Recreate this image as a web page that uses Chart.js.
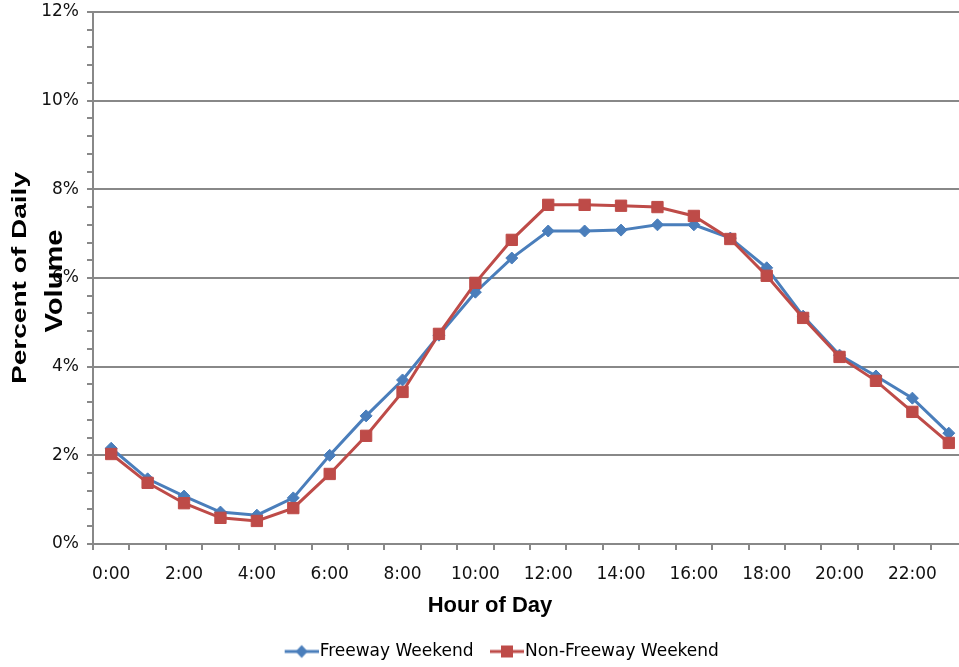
<!DOCTYPE html>
<html>
<head>
<meta charset="utf-8">
<script src="https://cdn.jsdelivr.net/npm/chart.js@4.4.0/dist/chart.umd.min.js"></script>
<style>
  html, body { margin: 0; padding: 0; background: #fff; overflow: hidden; }
  /* the original plot runs a little past the right and bottom edges of the picture */
  #wrap { width: 959px; height: 667px; overflow: hidden; }
  #inner { width: 967px; height: 670px; position: relative; }
</style>
</head>
<body>
<div id="wrap"><div id="inner"><canvas id="chart"></canvas></div></div>
<script>
// data (percent of daily volume)
const hours = ["0:00", "1:00", "2:00", "3:00", "4:00", "5:00", "6:00", "7:00", "8:00", "9:00", "10:00", "11:00",
    "12:00", "13:00", "14:00", "15:00", "16:00", "17:00", "18:00", "19:00", "20:00", "21:00", "22:00", "23:00"];
const freewayWeekend = [2.16, 1.47, 1.08, 0.72, 0.65, 1.04, 2.00, 2.89, 3.70, 4.71, 5.68, 6.45,
    7.06, 7.06, 7.08, 7.20, 7.20, 6.90, 6.23, 5.14, 4.26, 3.79, 3.29, 2.50];
const nonFreewayWeekend = [2.03, 1.38, 0.92, 0.59, 0.52, 0.81, 1.58, 2.44, 3.43, 4.74, 5.89, 6.86,
    7.65, 7.65, 7.63, 7.60, 7.40, 6.88, 6.05, 5.10, 4.22, 3.68, 2.98, 2.28];
const seriesNames = ["Freeway Weekend", "Non-Freeway Weekend"];
const xTitle = "Hour of Day";
const yTitle = ["Percent of Daily", "Volume"];
const yMax = 12;
const yMajorStep = 2;
const yMinorStep = 0.4;

const BLUE = "#4a7ebb";
const RED = "#be4b48";
const GRID = "#888888";
const TICK_FONT = { family: "'DejaVu Sans', Verdana, sans-serif", size: 17 };
const TITLE_FAMILY = "'Liberation Sans', Arial, sans-serif";

// line + marker icon for the legend (transparent margin on the left keeps items apart)
function makeLegendIcon(color, style) {
    const c = document.createElement("canvas");
    c.width = 50;
    c.height = 16;
    const g = c.getContext("2d");
    g.strokeStyle = color;
    g.lineWidth = 3;
    g.beginPath();
    g.moveTo(16, 8);
    g.lineTo(50, 8);
    g.stroke();
    g.fillStyle = color;
    if (style === "diamond") {
        g.beginPath();
        g.moveTo(33, 1.5); g.lineTo(39, 8); g.lineTo(33, 14.5); g.lineTo(27, 8);
        g.closePath();
        g.fill();
    } else {
        g.fillRect(27, 2, 12, 12);
    }
    return c;
}
const legendIcons = [makeLegendIcon(BLUE, "diamond"), makeLegendIcon(RED, "square")];

// axis titles: the original puts them off-centre and lets the y title overlap the tick labels
const yTitleLines = [
    { x: 26, y: 278, size: 21, length: 212 },
    { x: 62, y: 281, size: 23, length: 103 }
];
const axisTitlesPlugin = {
    id: "axisTitles",
    afterDraw(chart) {
        const ctx = chart.ctx;
        ctx.save();
        ctx.fillStyle = "#000";
        ctx.textAlign = "center";
        ctx.font = `bold 22px ${TITLE_FAMILY}`;
        ctx.textBaseline = "middle";
        ctx.fillText(xTitle, 490, 606);
        ctx.textBaseline = "alphabetic";
        yTitleLines.forEach((line, i) => {
            ctx.save();
            ctx.font = `bold ${line.size}px ${TITLE_FAMILY}`;
            const w = ctx.measureText(yTitle[i]).width;
            ctx.translate(line.x, line.y);
            ctx.rotate(-Math.PI / 2);
            ctx.scale(line.length / w, 1);
            ctx.fillText(yTitle[i], 0, 0);
            ctx.restore();
        });
        ctx.restore();
    }
};

const isMajor = v => Math.abs(v / yMajorStep - Math.round(v / yMajorStep)) < 1e-6;

new Chart(document.getElementById("chart"), {
    type: "line",
    data: {
        labels: hours,
        datasets: [{
            label: seriesNames[0],
            data: freewayWeekend,
            borderColor: BLUE,
            backgroundColor: BLUE,
            borderWidth: 3,
            pointStyle: "rectRot",
            pointRadius: 6,
            pointBorderWidth: 1,
            tension: 0,
            order: 1
        }, {
            label: seriesNames[1],
            data: nonFreewayWeekend,
            borderColor: RED,
            backgroundColor: RED,
            borderWidth: 3,
            pointStyle: "rect",
            pointRadius: 8,
            pointBorderWidth: 1,
            tension: 0,
            order: 0
        }]
    },
    options: {
        responsive: true,
        maintainAspectRatio: false,
        animation: false,
        layout: { autoPadding: false, padding: { left: 28, right: 0, top: 12, bottom: 0 } },
        plugins: {
            legend: {
                position: "bottom",
                labels: {
                    usePointStyle: true,
                    pointStyleWidth: 35,
                    boxHeight: 17,
                    padding: 8,
                    color: "#111",
                    font: TICK_FONT,
                    generateLabels: () => seriesNames.map((name, i) => ({
                        text: name,
                        pointStyle: legendIcons[i],
                        fillStyle: "transparent",
                        strokeStyle: "transparent",
                        lineWidth: 0,
                        datasetIndex: i,
                        hidden: false
                    }))
                }
            },
            tooltip: { enabled: false }
        },
        scales: {
            x: {
                type: "category",
                offset: true,
                grid: {
                    offset: true,
                    drawOnChartArea: false,
                    color: GRID,
                    lineWidth: 2,
                    tickLength: 6
                },
                border: { color: GRID, width: 2 },
                ticks: {
                    autoSkip: false,
                    maxRotation: 0,
                    padding: 14,
                    color: "#111",
                    font: TICK_FONT,
                    callback: (v, i) => (i % 2 === 0 ? hours[i] : "")
                },
                afterFit: scale => {
                    scale.height = 91;
                    scale.paddingLeft = 0;
                    scale.paddingRight = 0;
                }
            },
            y: {
                min: 0,
                max: yMax,
                grid: {
                    color: ctx => (isMajor(ctx.tick.value) ? GRID : "rgba(0,0,0,0)"),
                    tickColor: GRID,
                    lineWidth: 2,
                    tickLength: 6
                },
                border: { color: GRID, width: 2 },
                ticks: {
                    stepSize: yMinorStep,
                    autoSkip: false,
                    padding: 8,
                    color: "#111",
                    font: TICK_FONT,
                    callback: v => (isMajor(v) ? Math.round(v) + "%" : "")
                },
                afterFit: scale => {
                    scale.width = 65;
                    scale.paddingTop = 0;
                    scale.paddingBottom = 0;
                }
            }
        }
    },
    plugins: [axisTitlesPlugin]
});
</script>
</body>
</html>
